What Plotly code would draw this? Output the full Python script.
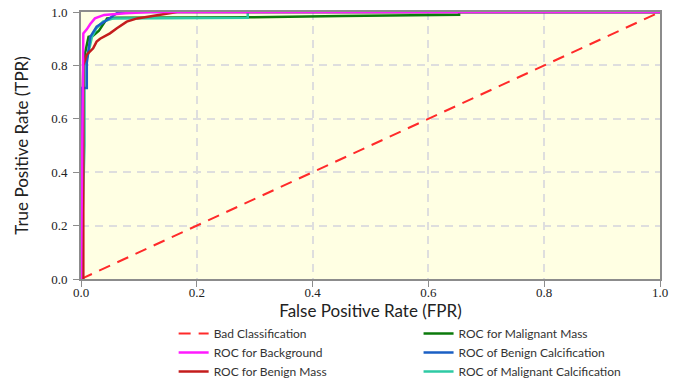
import plotly.graph_objects as go

# ---- data ----
bad_fpr = [0.0, 1.0]
bad_tpr = [0.0, 1.0]

bg_fpr = [0.0, 0.004, 0.004, 0.010, 0.016, 0.024, 0.040, 0.077, 0.12, 1.0]
bg_tpr = [0.0, 0.78, 0.92, 0.935, 0.955, 0.976, 0.989, 0.995, 1.0, 1.0]

bm_fpr = [0.0, 0.004, 0.004, 0.010, 0.021, 0.027, 0.033, 0.050, 0.062, 0.079, 0.097, 0.137, 0.166, 1.0]
bm_tpr = [0.0, 0.0, 0.80, 0.84, 0.864, 0.889, 0.900, 0.920, 0.939, 0.964, 0.976, 0.989, 1.0, 1.0]

mm_fpr = [0.0, 0.0, 0.004, 0.007, 0.013, 0.020, 0.031, 0.045, 0.060, 0.29, 0.45, 0.653, 0.653, 1.0]
mm_tpr = [0.0, 0.40, 0.80, 0.846, 0.907, 0.910, 0.930, 0.976, 0.978, 0.980, 0.985, 0.990, 1.0, 1.0]

bc_fpr = [0.0, 0.0, 0.010, 0.010, 0.016, 0.027, 0.045, 0.065, 0.129, 1.0]
bc_tpr = [0.0, 0.715, 0.715, 0.81, 0.907, 0.945, 0.970, 1.0, 1.0, 1.0]

mc_fpr = [0.0, 0.006, 0.006, 0.012, 0.019, 0.027, 0.038, 0.056, 0.288, 0.288, 1.0]
mc_tpr = [0.0, 0.50, 0.80, 0.84, 0.907, 0.940, 0.964, 0.976, 0.978, 1.0, 1.0]

tick_vals = [0.0, 0.2, 0.4, 0.6, 0.8, 1.0]
tick_text = ["0.0", "0.2", "0.4", "0.6", "0.8", "1.0"]

SANS = "Lato"
SERIF = "Liberation Serif"

fig = go.Figure()

fig.add_trace(go.Scatter(x=bad_fpr, y=bad_tpr, mode="lines", name="Bad Classification",
                         line=dict(color="#ff2a2a", width=2, dash="12px,8px"),
                         legend="legend", legendrank=1))
fig.add_trace(go.Scatter(x=mm_fpr, y=mm_tpr, mode="lines", name="ROC for Malignant Mass",
                         line=dict(color="#0b7a0b", width=2.5),
                         legend="legend2", legendrank=4))
fig.add_trace(go.Scatter(x=mc_fpr, y=mc_tpr, mode="lines", name="ROC of Malignant Calcification",
                         line=dict(color="#2ecaa4", width=2.5),
                         legend="legend2", legendrank=6))
fig.add_trace(go.Scatter(x=bc_fpr, y=bc_tpr, mode="lines", name="ROC of Benign Calcification",
                         line=dict(color="#1a5fc4", width=2.5),
                         legend="legend2", legendrank=5))
fig.add_trace(go.Scatter(x=bm_fpr, y=bm_tpr, mode="lines", name="ROC for Benign Mass",
                         line=dict(color="#c41c1c", width=2.5),
                         legend="legend", legendrank=3))
fig.add_trace(go.Scatter(x=bg_fpr, y=bg_tpr, mode="lines", name="ROC for Background",
                         line=dict(color="#ff1aff", width=2.5),
                         legend="legend", legendrank=2))

axis_common = dict(
    range=[0, 1.0], tickvals=tick_vals, ticktext=tick_text,
    tickfont=dict(family=SERIF, size=13, color="#222"),
    showline=True, linecolor="#8c8c8c", linewidth=2, mirror=True,
    ticks="outside", ticklen=6, tickcolor="#8c8c8c", tickwidth=1,
    showgrid=True, gridcolor="#dedede", gridwidth=1.5, griddash="8px,6px",
    zeroline=False,
)

fig.update_xaxes(**axis_common, ticklabelstandoff=-6,
                 title=dict(text="False Positive Rate (FPR)", font=dict(family=SANS, size=17, color="#222"),
                            standoff=0))
fig.update_yaxes(**axis_common, ticklabelstandoff=3,
                 title=dict(text="True Positive Rate (TPR)", font=dict(family=SANS, size=17, color="#222"),
                            standoff=18))

legend_font = dict(family=SANS, size=12, color="#333")
fig.update_layout(
    width=681, height=381,
    margin=dict(l=81, r=21, t=12, b=102, autoexpand=False),
    paper_bgcolor="white",
    plot_bgcolor="#ffffe3",
    showlegend=True,
    legend=dict(x=0.16, y=-0.15, xanchor="left", yanchor="top", font=legend_font,
                bgcolor="rgba(0,0,0,0)", traceorder="normal"),
    legend2=dict(x=0.583, y=-0.15, xanchor="left", yanchor="top", font=legend_font,
                 bgcolor="rgba(0,0,0,0)", traceorder="normal"),
)

fig.write_html("out.html")
